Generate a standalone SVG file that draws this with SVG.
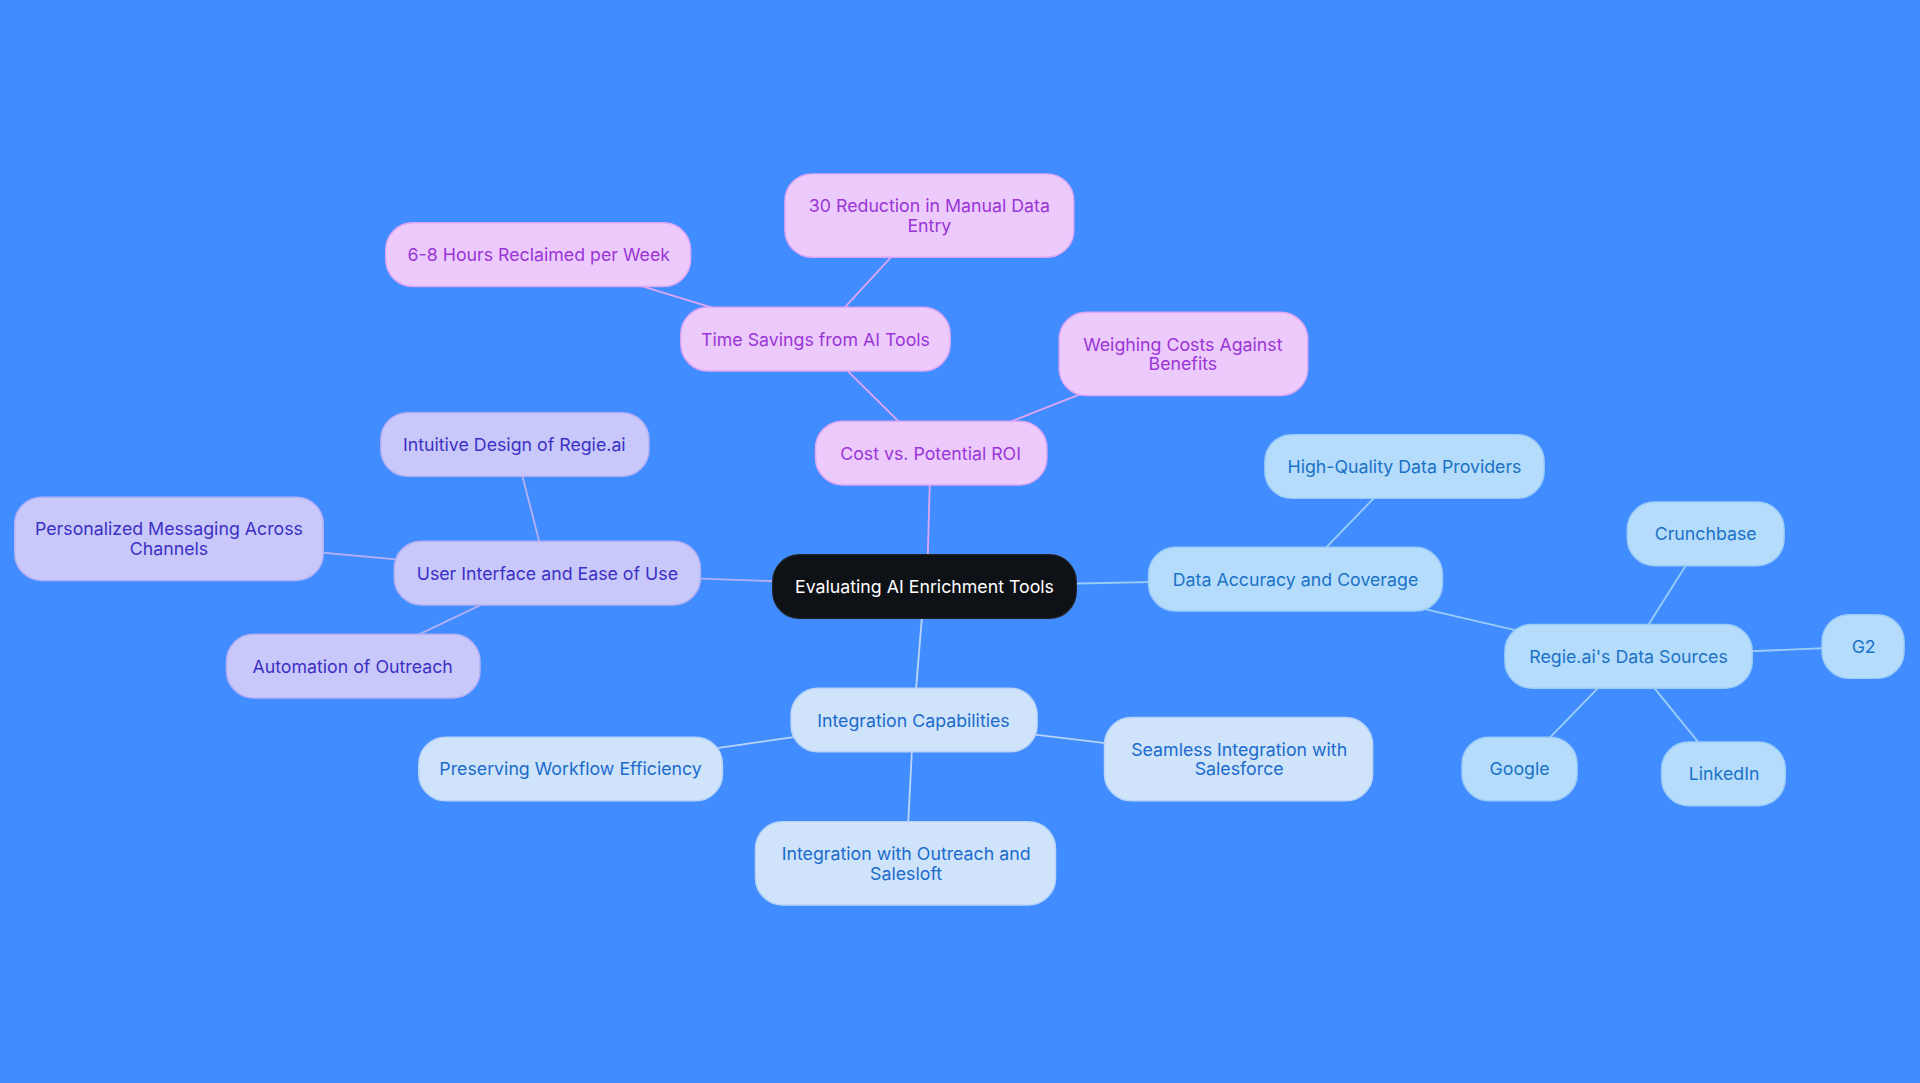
<svg xmlns="http://www.w3.org/2000/svg" width="1920" height="1083" viewBox="0 0 1920 1083">
<style>
text{font-family:Inter,"Liberation Sans",sans-serif;font-size:14.5px;text-anchor:middle;dominant-baseline:central}
.p rect{fill:#eccafb;stroke:#dca6f3;stroke-width:1.2}.p text{fill:#9a35d6}
.v rect{fill:#c9c8fb;stroke:#b4b0f4;stroke-width:1.2}.v text{fill:#3c30c4}
.b rect{fill:#cfe3fb;stroke:#b8d4f6;stroke-width:1.2}.b text{fill:#1b6bcc}
.c rect{fill:#b6dcfc;stroke:#9ccdf8;stroke-width:1.2}.c text{fill:#1a72c6}
#edges line{stroke-width:1.5}
</style>
<rect width="1920" height="1083" fill="#418cff"/>
<g transform="scale(1.22449)">
<g id="edges">
<g stroke="#dca6f3"><line x1="757" y1="479" x2="760" y2="370"/><line x1="760" y1="370" x2="666" y2="277"/><line x1="760" y1="370" x2="966" y2="289"/><line x1="666" y1="277" x2="759" y2="176"/><line x1="666" y1="277" x2="440" y2="208"/></g>
<g stroke="#b4b0f4"><line x1="755" y1="479" x2="447" y2="468"/><line x1="447" y1="468" x2="420" y2="363"/><line x1="447" y1="468" x2="138" y2="440"/><line x1="447" y1="468" x2="288" y2="544"/></g>
<g stroke="#b8d4f6"><line x1="755" y1="479" x2="746" y2="588"/><line x1="746" y1="588" x2="466" y2="628"/><line x1="746" y1="588" x2="740" y2="705"/><line x1="746" y1="588" x2="1012" y2="620"/></g>
<g stroke="#9ccdf8"><line x1="755" y1="479" x2="1058" y2="473"/><line x1="1058" y1="473" x2="1147" y2="381"/><line x1="1058" y1="473" x2="1330" y2="536"/><line x1="1330" y1="536" x2="1393" y2="436"/><line x1="1330" y1="536" x2="1522" y2="528"/><line x1="1330" y1="536" x2="1241" y2="628"/><line x1="1330" y1="536" x2="1408" y2="632"/></g>
</g>
<g id="root"><rect x="631" y="453" width="248" height="52" rx="22" fill="#0e1116" stroke="#222" stroke-width="1"/><text x="755" y="479" fill="#fff">Evaluating AI Enrichment Tools</text></g>
<g id="cost" class="p"><rect x="666" y="344" width="189" height="52" rx="22"/><text x="760" y="370">Cost vs. Potential ROI</text></g>
<g id="time" class="p"><rect x="556" y="251" width="220" height="52" rx="22"/><text x="666" y="277">Time Savings from AI Tools</text></g>
<g id="red" class="p"><rect x="641" y="142" width="236" height="68" rx="22"/><text x="759" y="168">30 Reduction in Manual Data</text><text x="759" y="184">Entry</text></g>
<g id="hours" class="p"><rect x="315" y="182" width="249" height="52" rx="22"/><text x="440" y="208">6-8 Hours Reclaimed per Week</text></g>
<g id="weigh" class="p"><rect x="865" y="255" width="203" height="68" rx="22"/><text x="966" y="281">Weighing Costs Against</text><text x="966" y="297">Benefits</text></g>
<g id="ui" class="v"><rect x="322" y="442" width="250" height="52" rx="22"/><text x="447" y="468">User Interface and Ease of Use</text></g>
<g id="intu" class="v"><rect x="311" y="337" width="219" height="52" rx="22"/><text x="420" y="363">Intuitive Design of Regie.ai</text></g>
<g id="pers" class="v"><rect x="12" y="406" width="252" height="68" rx="22"/><text x="138" y="432">Personalized Messaging Across</text><text x="138" y="448">Channels</text></g>
<g id="auto" class="v"><rect x="185" y="518" width="207" height="52" rx="22"/><text x="288" y="544">Automation of Outreach</text></g>
<g id="integ" class="b"><rect x="646" y="562" width="201" height="52" rx="22"/><text x="746" y="588">Integration Capabilities</text></g>
<g id="pres" class="b"><rect x="342" y="602" width="248" height="52" rx="22"/><text x="466" y="628">Preserving Workflow Efficiency</text></g>
<g id="outr" class="b"><rect x="617" y="671" width="245" height="68" rx="22"/><text x="740" y="697">Integration with Outreach and</text><text x="740" y="713">Salesloft</text></g>
<g id="seam" class="b"><rect x="902" y="586" width="219" height="68" rx="22"/><text x="1012" y="612">Seamless Integration with</text><text x="1012" y="628">Salesforce</text></g>
<g id="data" class="c"><rect x="938" y="447" width="240" height="52" rx="22"/><text x="1058" y="473">Data Accuracy and Coverage</text></g>
<g id="hq" class="c"><rect x="1033" y="355" width="228" height="52" rx="22"/><text x="1147" y="381">High-Quality Data Providers</text></g>
<g id="src" class="c"><rect x="1229" y="510" width="202" height="52" rx="22"/><text x="1330" y="536">Regie.ai's Data Sources</text></g>
<g id="crunch" class="c"><rect x="1329" y="410" width="128" height="52" rx="22"/><text x="1393" y="436">Crunchbase</text></g>
<g id="g2" class="c"><rect x="1488" y="502" width="67" height="52" rx="22"/><text x="1522" y="528">G2</text></g>
<g id="google" class="c"><rect x="1194" y="602" width="94" height="52" rx="22"/><text x="1241" y="628">Google</text></g>
<g id="linkedin" class="c"><rect x="1357" y="606" width="101" height="52" rx="22"/><text x="1408" y="632">LinkedIn</text></g>
</g>
</svg>
